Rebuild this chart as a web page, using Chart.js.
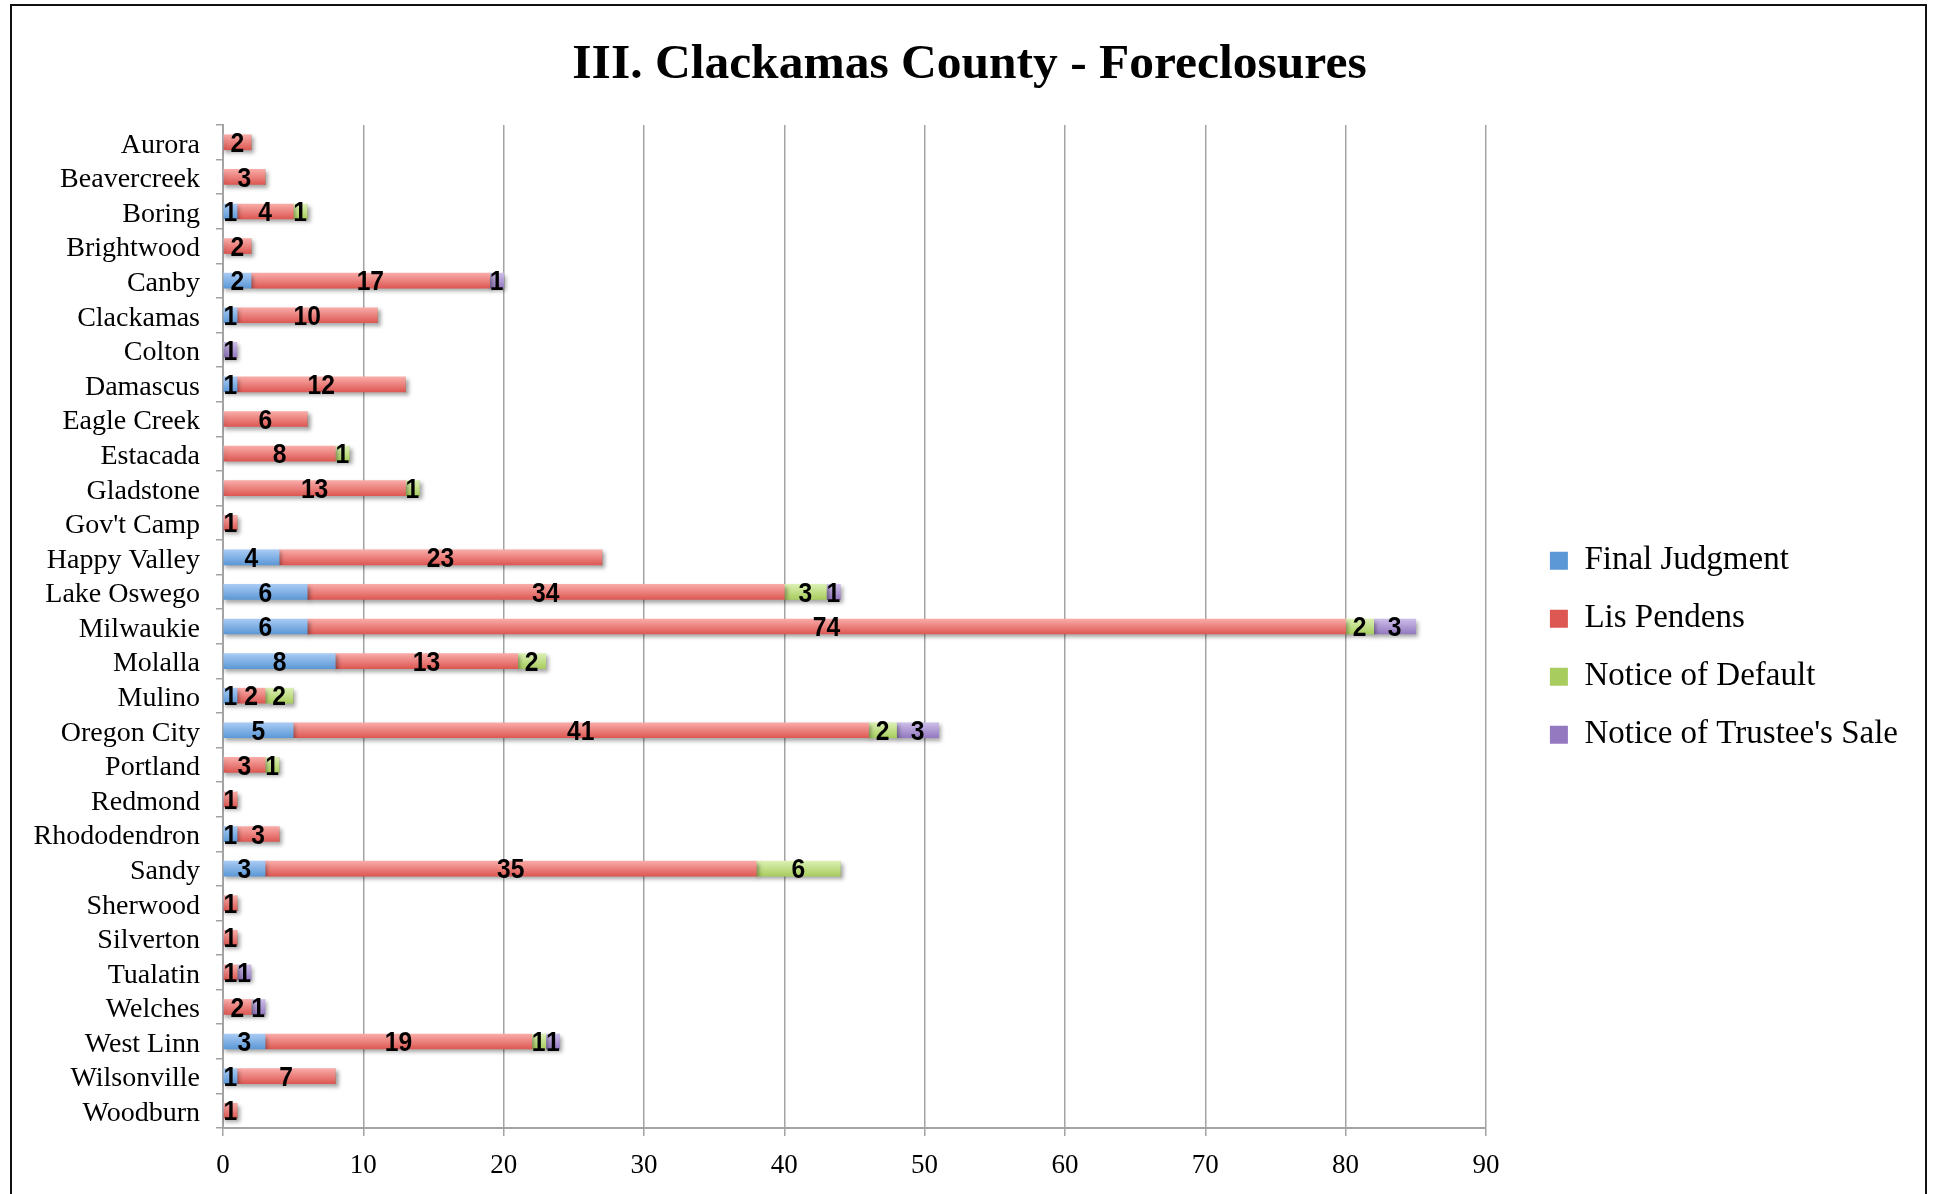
<!DOCTYPE html>
<html>
<head>
<meta charset="utf-8">
<script src="https://cdn.jsdelivr.net/npm/chart.js@4.4.0/dist/chart.umd.min.js"></script>
<style>
  body { margin: 0; background: #fff; overflow: hidden; }
</style>
</head>
<body>
<canvas id="graph" width="1935" height="1194"></canvas>
<script>
const categories = ['Aurora', 'Beavercreek', 'Boring', 'Brightwood', 'Canby', 'Clackamas', 'Colton',
  'Damascus', 'Eagle Creek', 'Estacada', 'Gladstone', "Gov't Camp", 'Happy Valley', 'Lake Oswego',
  'Milwaukie', 'Molalla', 'Mulino', 'Oregon City', 'Portland', 'Redmond', 'Rhododendron', 'Sandy',
  'Sherwood', 'Silverton', 'Tualatin', 'Welches', 'West Linn', 'Wilsonville', 'Woodburn'];
const finalJudgment   = [0, 0, 1, 0, 2, 1, 0, 1, 0, 0, 0, 0, 4, 6, 6, 8, 1, 5, 0, 0, 1, 3, 0, 0, 0, 0, 3, 1, 0];
const lisPendens      = [2, 3, 4, 2, 17, 10, 0, 12, 6, 8, 13, 1, 23, 34, 74, 13, 2, 41, 3, 1, 3, 35, 1, 1, 1, 2, 19, 7, 1];
const noticeOfDefault = [0, 0, 1, 0, 0, 0, 0, 0, 0, 1, 1, 0, 0, 3, 2, 2, 2, 2, 1, 0, 0, 6, 0, 0, 0, 0, 1, 0, 0];
const trusteesSale    = [0, 0, 0, 0, 1, 0, 1, 0, 0, 0, 0, 0, 0, 1, 3, 0, 0, 3, 0, 0, 0, 0, 0, 0, 1, 1, 1, 0, 0];
const xTicks = [0, 10, 20, 30, 40, 50, 60, 70, 80, 90];

const BAR_H = 15;
const gridGrey = '#a3a3a3';
const serif = "'Liberation Serif', serif";

// vertical gradient per bar, like the old Excel look
function shaded(flat, top, bottom) {
  return (c) => {
    const y = c.chart.scales.y;
    if (!y || c.dataIndex === undefined) return flat;
    const cy = y.getPixelForValue(c.dataIndex);
    if (!isFinite(cy)) return flat;
    const g = c.chart.ctx.createLinearGradient(0, cy - BAR_H / 2, 0, cy + BAR_H / 2);
    g.addColorStop(0, top);
    g.addColorStop(1, bottom);
    return g;
  };
}

function series(label, data, flat, top, bottom) {
  return {
    label: label,
    data: data,
    backgroundColor: shaded(flat, top, bottom),
    borderWidth: 0,
    barThickness: BAR_H
  };
}

const frame = {
  id: 'frame',
  afterLayout(chart) {
    // nudge legend and title to where the original has them
    const lg = chart.legend;
    lg.left += 39; lg.right += 39;
    lg.top += 44.5; lg.bottom += 44.5;
    const tb = chart.titleBlock;
    tb.left += 30; tb.right += 30;
  },
  beforeDraw(chart) {
    const ctx = chart.ctx;
    ctx.save();
    ctx.fillStyle = '#fff';
    ctx.fillRect(0, 0, chart.width, chart.height);
    ctx.strokeStyle = '#111';
    ctx.lineWidth = 2;
    ctx.strokeRect(11, 5, 1915, 1200);
    ctx.restore();
  },
  beforeDatasetsDraw(chart) {
    const ctx = chart.ctx;
    ctx.save();
    ctx.shadowColor = 'rgba(0, 0, 0, 0.35)';
    ctx.shadowBlur = 4;
    ctx.shadowOffsetX = 2;
    ctx.shadowOffsetY = 3;
  },
  afterDatasetsDraw(chart) {
    const ctx = chart.ctx;
    ctx.restore();
    ctx.save();
    ctx.fillStyle = '#000';
    ctx.font = "bold 28px 'Liberation Sans', Arial, sans-serif";
    ctx.textAlign = 'center';
    ctx.textBaseline = 'middle';
    chart.data.datasets.forEach((ds, i) => {
      chart.getDatasetMeta(i).data.forEach((bar, j) => {
        const v = ds.data[j];
        if (!v) return;
        ctx.save();
        ctx.translate((bar.x + bar.base) / 2, bar.y + 2);
        ctx.scale(0.88, 1);
        ctx.fillText(String(v), 0, 0);
        ctx.restore();
      });
    });
    ctx.restore();
  }
};

new Chart(document.getElementById('graph'), {
  type: 'bar',
  data: {
    labels: categories,
    datasets: [
      series('Final Judgment', finalJudgment, '#80b1e8', '#a8cbf4', '#5c98d6'),
      series('Lis Pendens', lisPendens, '#ec7f7b', '#f9aba8', '#dd5853'),
      series('Notice of Default', noticeOfDefault, '#c4e08c', '#dbf0b3', '#a8cd5e'),
      series("Notice of Trustee's Sale", trusteesSale, '#b09cd6', '#ccbde8', '#9479c0')
    ]
  },
  options: {
    indexAxis: 'y',
    responsive: false,
    animation: false,
    layout: { padding: { top: 10, left: 10, right: 66, bottom: -2.4 } },
    plugins: {
      title: {
        display: true,
        text: 'III. Clackamas County - Foreclosures',
        color: '#000',
        font: { family: serif, size: 49.5, weight: 'bold' },
        padding: { top: 26, bottom: 29.6 }
      },
      legend: {
        position: 'right',
        labels: {
          color: '#000',
          font: { family: serif, size: 33 },
          boxWidth: 18,
          boxHeight: 18,
          padding: 25
        }
      },
      tooltip: { enabled: false }
    },
    scales: {
      x: {
        stacked: true,
        min: 0,
        max: 90,
        afterBuildTicks: (s) => { s.ticks = xTicks.map(v => ({ value: v })); },
        grid: { color: gridGrey, lineWidth: 1.5, tickLength: 8 },
        border: { color: gridGrey, width: 2 },
        ticks: {
          color: '#000',
          padding: 14,
          font: { family: serif, size: 27 }
        }
      },
      y: {
        stacked: true,
        afterFit: (s) => { s.width = 213; },
        grid: { drawOnChartArea: false, color: gridGrey, lineWidth: 1.5, tickLength: 7 },
        border: { color: gridGrey, width: 2 },
        ticks: {
          color: '#000',
          padding: 16,
          labelOffset: 3,
          autoSkip: false,
          font: { family: serif, size: 28 }
        }
      }
    }
  },
  plugins: [frame]
});
</script>
</body>
</html>
